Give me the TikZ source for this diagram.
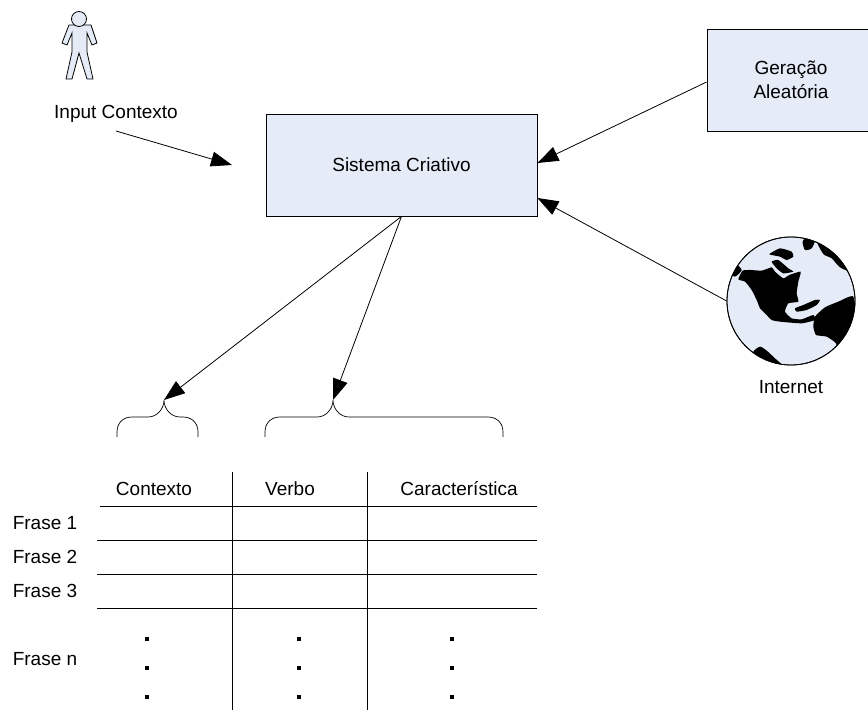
\documentclass[tikz,border=0pt]{standalone}
\usepackage{fontspec}
\setmainfont{Liberation Sans}
\definecolor{boxblue}{RGB}{229, 235, 247}
\usetikzlibrary{arrows.meta, positioning, calc}
\tikzset{
  panel/.style={draw, fill=boxblue, line width=0.8pt, align=center, font=\fontsize{19}{24}\selectfont},
  label/.style={font=\fontsize{19}{24}\selectfont, inner sep=0pt},
  squaredot/.style={fill=black, minimum size=4pt, inner sep=0pt},
  link/.style={line width=0.8pt, -{Triangle[length=21pt,width=15pt]}},
  rule/.style={line width=0.7pt},
  curly/.style={line width=0.7pt},
  land/.style={fill=black}
}
\begin{document}
\begin{tikzpicture}[x=1pt, y=-1pt]
  \useasboundingbox (0, 0) rectangle (868, 711);

  % Person
  \draw[fill=boxblue, line width=0.8pt] (69, 25) -- (91, 25) -- (97, 43) -- (92, 45) -- (87, 33) -- (87, 52) -- (93, 79) -- (87, 79) -- (79, 53) -- (72, 79) -- (66, 79) -- (72, 52) -- (72, 33) -- (67, 45) -- (62, 43) -- cycle;
  \draw[fill=boxblue, line width=0.8pt] (79, 19) circle (7.5);
  \node[label] (inputlabel) at (116, 114) {Input Contexto};
  \coordinate (inputstart) at (116, 131);
  \coordinate (inputend) at (232, 165);

  % Boxes
  \node[panel, minimum width=271pt, minimum height=102pt] (sistema) at (401.5, 165) {Sistema Criativo};
  \node[panel, minimum width=168pt, minimum height=102pt] (geracao) at (791, 80) {Geração\\Aleatória};

  % Globe
  \node[draw, circle, fill=boxblue, line width=0.8pt, minimum size=128pt, inner sep=0pt] (globo) at (791, 301) {};
  \begin{scope}
    \clip (791, 301) circle (64);
    \begin{scope}[shift={(730, 240)}, x=0.3333pt, y=-0.3333pt]
      \fill[land] plot[smooth cycle, tension=0.3] coordinates {(25, 118) (38, 92) (62, 90) (95, 92) (125, 82) (135, 95) (160, 115) (178, 105) (212, 95) (205, 125) (200, 160) (205, 185) (175, 190) (165, 215) (185, 235) (215, 238) (250, 225) (255, 240) (215, 250) (150, 245) (125, 240) (105, 220) (90, 205) (80, 180) (65, 150) (45, 125)};
      \fill[land] plot[smooth cycle, tension=0.3] coordinates {(118, 42) (150, 25) (185, 35) (190, 50) (170, 60) (150, 50) (125, 45)};
      \fill[land] plot[smooth cycle, tension=0.3] coordinates {(125, 65) (145, 60) (175, 85) (190, 95) (160, 100) (140, 85)};
      \fill[land] plot[smooth cycle, tension=0.3] coordinates {(195, 205) (220, 195) (255, 180) (270, 180) (260, 195) (230, 210) (200, 215)};
    \end{scope}
    \begin{scope}[shift={(710, 230)}, x=0.3333pt, y=-0.3333pt]
      \fill[land] plot[smooth cycle, tension=0.4] coordinates {(278, 35) (295, 15) (315, 30) (305, 55) (285, 60)};
      \fill[land] plot[smooth cycle, tension=0.4] coordinates {(320, 30) (370, 40) (400, 80) (425, 125) (390, 112) (365, 85) (340, 72)};
      \fill[land] plot[smooth cycle, tension=0.3] coordinates {(310, 290) (315, 260) (345, 232) (385, 215) (430, 200) (440, 300) (385, 378) (378, 340) (350, 320) (318, 315)};
      \fill[land] plot[smooth cycle, tension=0.4] coordinates {(130, 365) (150, 350) (170, 362) (195, 385) (220, 410) (165, 400) (140, 385)};
      \fill[land] plot[smooth cycle, tension=0.4] coordinates {(60, 125) (75, 100) (95, 120) (75, 140)};
    \end{scope}
  \end{scope}
  \draw[line width=0.8pt] (791, 301) circle (64);
  \node[label, below=15pt of globo] (internet) {Internet};

  % Braces
  \coordinate (tipa) at (164, 400);
  \coordinate (tipb) at (333, 400);
  \draw[curly] (117, 437) -- (117, 432) .. controls (117, 423) and (123, 417) .. (132, 417) -- (148, 417) .. controls (157, 417) and (164, 409) .. (tipa) .. controls (164, 409) and (171, 417) .. (180, 417) -- (183, 417) .. controls (192, 417) and (198, 423) .. (198, 432) -- (198, 437);
  \draw[curly] (265, 437) -- (265, 432) .. controls (265, 423) and (271, 417) .. (280, 417) -- (317, 417) .. controls (326, 417) and (333, 409) .. (tipb) .. controls (333, 409) and (340, 417) .. (349, 417) -- (488, 417) .. controls (497, 417) and (503, 423) .. (503, 432) -- (503, 437);

  % Connectors
  \draw[link] (inputstart) -- (inputend);
  \draw[link] (geracao.west |- 0, 82) -- (sistema.east |- 0, 163);
  \draw[link] (globo.west) -- (sistema.east |- 0, 198);
  \draw[link] (sistema.south) -- (tipa);
  \draw[link] (sistema.south) -- (tipb);

  % Table
  \draw[rule] (100, 506) -- (537, 506);
  \foreach \y in {540, 574, 608} {
    \draw[rule] (97, \y) -- (537, \y);
  }
  \foreach \x in {232, 367} {
    \draw[rule] (\x, 472) -- (\x, 710);
  }
  \node[label] (contexto) at (154, 489) {Contexto};
  \node[label] (verbo) at (290, 489) {Verbo};
  \node[label] (caracteristica) at (459, 489) {Característica};
  \node[label] (frase1) at (45, 523) {Frase 1};
  \node[label] (frase2) at (45, 557) {Frase 2};
  \node[label] (frase3) at (45, 591) {Frase 3};
  \node[label] (frasen) at (45, 659) {Frase n};
  \foreach \x in {147, 299, 452} {
    \foreach \y in {639, 668, 697} {
      \node[squaredot] at (\x, \y) {};
    }
  }
\end{tikzpicture}
\end{document}
